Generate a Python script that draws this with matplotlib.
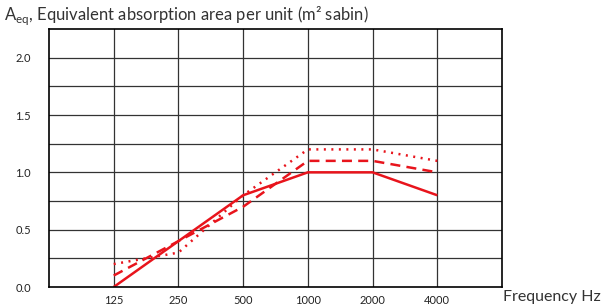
import matplotlib.pyplot as plt
import numpy as np

# Données
frequencies = ["125", "250", "500", "1000", "2000", "4000"]
solid_vals = [0.0, 0.4, 0.8, 1.0, 1.0, 0.8]
dashed_vals = [0.1, 0.4, 0.7, 1.1, 1.1, 1.0]
dotted_vals = [0.2, 0.3, 0.8, 1.2, 1.2, 1.1]
y_labels = ["0.0", "0.5", "1.0", "1.5", "2.0"]

red = "#e8141c"
plt.rcParams["font.family"] = ["Lato", "DejaVu Sans"]
plt.rcParams["mathtext.fontset"] = "custom"
plt.rcParams["mathtext.rm"] = "Lato"

fig = plt.figure(figsize=(6.02, 3.08), dpi=100)
ax = fig.add_axes([49 / 602, 1 - 287 / 308, 453 / 602, 258 / 308])

x = np.arange(len(frequencies))
ax.plot(x, solid_vals, color=red, lw=1.8, solid_capstyle="butt")
ax.plot(x, dashed_vals, color=red, lw=1.8, linestyle=(0, (4, 2.5)))
ax.plot(x, dotted_vals, color=red, lw=1.8, linestyle=(0, (0.8, 2.2)))

ax.set_xlim(-1, len(frequencies))
ax.set_ylim(0, 2.25)

# Grille
for gx in np.arange(0, len(frequencies)):
    ax.axvline(gx, color="#333333", lw=0.9, zorder=0)
for gy in np.arange(0.25, 2.25, 0.25):
    ax.axhline(gy, color="#333333", lw=0.9, zorder=0)

ax.set_xticks(x)
ax.set_xticklabels(frequencies)
ax.set_yticks([float(v) for v in y_labels])
ax.set_yticklabels(y_labels)
ax.tick_params(axis="both", length=0, labelsize=8, colors="#222222")
ax.tick_params(axis="x", pad=6)
ax.tick_params(axis="y", pad=13)

for spine in ax.spines.values():
    spine.set_color("black")
    spine.set_linewidth(1.2)

fig.text(4 / 602, 1 - 16 / 308, r"A$_{\mathregular{eq}}$, Equivalent absorption area per unit (m² sabin)",
         fontsize=12, color="#333333", va="center", ha="left")
fig.text(503 / 602, 1 - 297 / 308, "Frequency Hz", fontsize=11.5, color="#333333",
         va="center", ha="left")

plt.savefig("out.png", dpi=100)
plt.close()
